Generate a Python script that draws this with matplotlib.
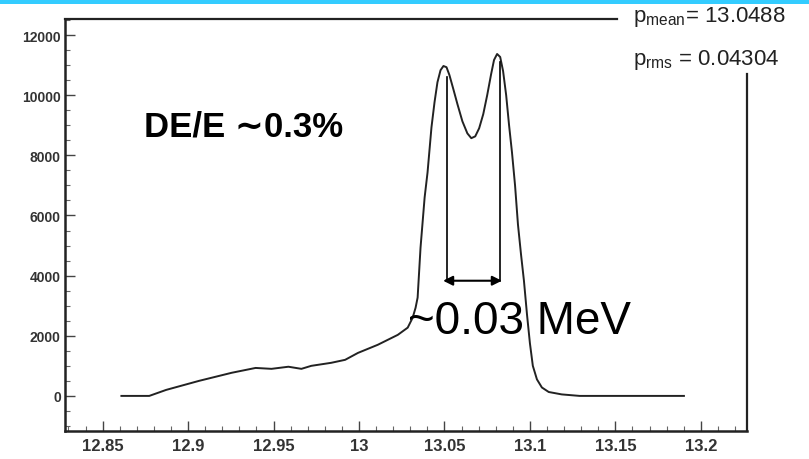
import matplotlib
matplotlib.use("Agg")
import matplotlib.pyplot as plt
from matplotlib.ticker import MultipleLocator, FixedLocator
from matplotlib.lines import Line2D
from matplotlib.patches import Rectangle

# ---- data ----
energy = [12.861, 12.8773, 12.8872, 12.9064, 12.9256, 12.9395, 12.9488, 12.9587,
          12.9663, 12.9721, 12.9837, 12.9919, 12.9994, 13.011, 13.0227, 13.0285,
          13.0314, 13.0331, 13.0343, 13.036, 13.0384, 13.0401, 13.0424, 13.0442,
          13.0459, 13.0477, 13.0494, 13.0512, 13.0529, 13.0552, 13.0576, 13.0605,
          13.0634, 13.0657, 13.068, 13.0703, 13.0727, 13.075, 13.0773, 13.079,
          13.0808, 13.0826, 13.0843, 13.0861, 13.0878, 13.0895, 13.0913, 13.093,
          13.0948, 13.0965, 13.0983, 13.1, 13.1017, 13.1041, 13.107, 13.111,
          13.1186, 13.1291, 13.1901]
counts = [0, 0, 200, 500, 770, 930, 900, 970,
          900, 1000, 1100, 1200, 1430, 1700, 2030, 2270,
          2600, 2930, 3270, 4930, 6600, 7430, 8930, 9770,
          10430, 10830, 10970, 10930, 10670, 10200, 9700, 9130,
          8730, 8570, 8630, 8900, 9370, 10000, 10700, 11170,
          11370, 11270, 10800, 10000, 9000, 8100, 7000, 5700,
          4700, 3830, 2700, 1750, 1000, 550, 280, 130,
          50, 0, 0]

xtick_vals = [12.85, 12.9, 12.95, 13.0, 13.05, 13.1, 13.15, 13.2]
xtick_labels = ["12.85", "12.9", "12.95", "13", "13.05", "13.1", "13.15", "13.2"]
ytick_vals = [0, 2000, 4000, 6000, 8000, 10000, 12000]
ytick_labels = ["0", "2000", "4000", "6000", "8000", "10000", "12000"]

peak_x = [13.0517, 13.0826]
peak_top = [10600, 11100]
arrow_y = 3830

stat_mean = "13.0488"
stat_rms = "0.04304"

# ---- figure ----
W, H = 809, 460
fig = plt.figure(figsize=(W / 100, H / 100), dpi=100)

def fx(px):
    return px / W

def fy(py):
    return 1 - py / H

# cyan bar on top
fig.patches.append(Rectangle((0, fy(5)), 1, 5 / H, transform=fig.transFigure,
                             facecolor="#33CCFF", edgecolor="none"))

L, R, T, B = 65, 747, 20, 432
ax = fig.add_axes([fx(L), fy(B), (R - L) / W, (B - T) / H])
ax.set_xlim(12.828, 13.227)
ax.set_ylim(-1167, 12533)

for s in ["top", "right"]:
    ax.spines[s].set_visible(False)
for s in ["left", "bottom"]:
    ax.spines[s].set_linewidth(1.8)
    ax.spines[s].set_color("#222222")

# partial top and right frame lines
fig.add_artist(Line2D([fx(L), fx(617)], [fy(T), fy(T)], transform=fig.transFigure,
                      color="#222222", lw=1.6))
fig.add_artist(Line2D([fx(R), fx(R)], [fy(75), fy(B)], transform=fig.transFigure,
                      color="#222222", lw=1.6))

tick_font = dict(family=["Liberation Sans Narrow", "Liberation Sans"], weight="bold")
ax.xaxis.set_major_locator(FixedLocator(xtick_vals))
ax.set_xticklabels(xtick_labels, fontsize=12, color="#333333", **tick_font)
ax.xaxis.set_minor_locator(MultipleLocator(0.01))
ax.yaxis.set_major_locator(FixedLocator(ytick_vals))
ax.set_yticklabels(ytick_labels, fontsize=10, color="#333333", **tick_font)
ax.yaxis.set_minor_locator(MultipleLocator(500))
ax.tick_params(which="major", direction="in", length=7, width=1.0, color="#444444", pad=3)
ax.tick_params(axis="x", which="major", pad=5)
ax.tick_params(which="minor", direction="in", length=3.5, width=0.8, color="#666666")

# spectrum
ax.plot(energy, counts, color="#222222", lw=1.4, solid_joinstyle="round")

# annotation lines and arrow
for xv, top in zip(peak_x, peak_top):
    ax.plot([xv, xv], [arrow_y, top], color="black", lw=1.2)
ax.annotate("", xy=(peak_x[0] - 0.0025, arrow_y), xytext=(peak_x[1] + 0.001, arrow_y),
            arrowprops=dict(arrowstyle="<|-|>", color="black", lw=1.5,
                            mutation_scale=14, shrinkA=0, shrinkB=0))

ax.text(12.8744, 8667, "DE/E \u223c0.3%", fontsize=25, fontweight="bold",
        family=["Liberation Sans", "DejaVu Sans"], va="baseline", ha="left")
ax.text(13.0285, 2100, "~0.03 MeV", fontsize=33,
        family=["Liberation Sans", "DejaVu Sans"], va="baseline", ha="left")

stat_font = dict(family=["Liberation Sans Narrow", "Liberation Sans"], color="#222222")
fig.text(fx(633), fy(17), r"p$_{\mathregular{mean}}$= " + stat_mean, fontsize=16,
         va="center", ha="left", **stat_font)
fig.text(fx(633), fy(60), r"p$_{\mathregular{rms}}$ = " + stat_rms, fontsize=16,
         va="center", ha="left", **stat_font)

fig.savefig("out.png", dpi=100, facecolor="white")
